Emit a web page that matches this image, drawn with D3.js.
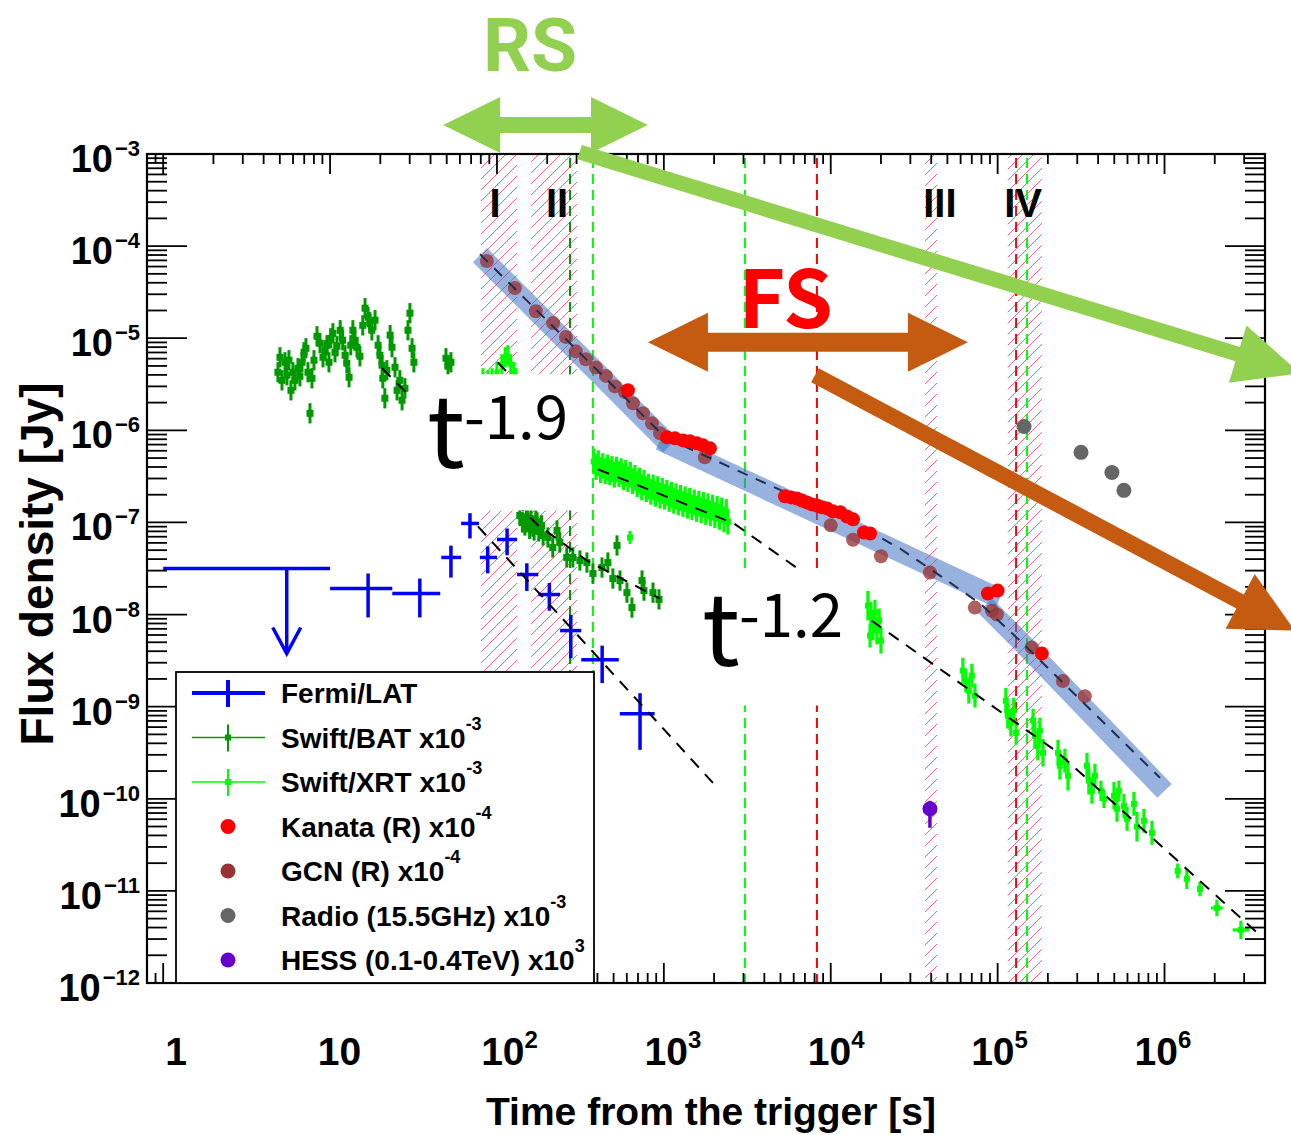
<!DOCTYPE html>
<html><head><meta charset="utf-8">
<script src="https://cdn.jsdelivr.net/npm/d3@7/dist/d3.min.js"></script>
<style>body{margin:0;background:#fff}svg{display:block}</style>
</head><body>
<svg id="chart" width="1291" height="1135"></svg>
<script>
// ---------------- DATA ----------------
// Fermi/LAT
const fermiT   = [16.9, 34.5, 53, 68.9, 88, 115, 151, 206, 277, 427, 720];
const fermiTlo = [10, 23.6, 46.4, 61, 79, 100, 132, 177, 239, 320, 545];
const fermiThi = [23.6, 45.7, 61, 78, 100, 132, 177, 239, 320, 537, 880];
const fermiF   = [1.92e-8, 1.69e-8, 4.17e-8, 9.75e-8, 4.17e-8, 6.53e-8, 2.72e-8, 1.65e-8, 6.7e-9, 3.24e-9, 8.4e-10];
const fermiFlo = [9.3e-9, 9.3e-9, 2.52e-8, 6.7e-8, 2.8e-8, 4.4e-8, 1.8e-8, 1.1e-8, 3.35e-9, 1.8e-9, 3.4e-10];
const fermiFhi = [2.79e-8, 2.46e-8, 5.6e-8, 1.26e-7, 5.5e-8, 8.6e-8, 3.6e-8, 2.2e-8, 9.9e-9, 4.6e-9, 1.4e-9];
const fermiUlT = [1, 5.5, 10];
const fermiUlF = 3.16e-8;

// Swift/BAT (x1e-3)
const batT = [4.87,5.01,5.15,5.37,5.52,5.67,5.83,5.99,6.16,6.42,6.60,6.79,6.98,7.17,7.37,7.58,7.79,8.01,8.35,8.70,9.07,9.33,9.58,9.85,10.1,10.4,10.7,11.0,11.5,11.9,12.3,12.6,13.0,13.3,13.7,14.1,14.5,15.1,15.7,16.2,16.9,17.3,17.8,18.6,19.4,19.9,20.5,20.7,21.3,21.9,22.9,23.5,24.5,25.2,26.2,27.0,28.1,29.3,30.1,31.0,31.8,49.5,50.9,53.0,
  137,142,147,150,153,157,160,164,167,171,174,178,181,185,189,202,216,229,238,262,285,314,346,376,426,462,495,524,546,601,644,740,760,861,935];
const batF = [4.27e-6,6.21e-6,3.49e-6,5.48e-6,3.96e-6,5.77e-6,2.72e-6,4.27e-6,3.49e-6,4.72e-6,3.86e-6,5.48e-6,7.05e-6,7.78e-6,4.27e-6,1.53e-6,3.67e-6,5.77e-6,1.05e-5,8.83e-6,6.21e-6,7.41e-6,8.39e-6,5.48e-6,1.0e-5,1.13e-5,7.05e-6,8.18e-6,1.22e-5,9.51e-6,6.53e-6,5.35e-6,3.77e-6,8.39e-6,1.22e-5,9.51e-6,7.98e-6,6.37e-6,1.38e-5,2.12e-5,1.69e-5,1.49e-5,1.22e-5,1.57e-5,8.39e-6,6.53e-6,5.09e-6,3.67e-6,2.23e-6,4.49e-6,1.08e-5,7.98e-6,4.84e-6,2.72e-6,3.49e-6,2.12e-6,2.86e-6,1.22e-5,1.87e-5,7.78e-6,5.48e-6,6.06e-6,4.97e-6,5.48e-6,
  1.19e-7,1.0e-7,9.27e-8,1.15e-7,1.05e-7,8.5e-8,1.10e-7,9.0e-8,8.18e-8,1.05e-7,1.0e-7,8.0e-8,8.61e-8,9.3e-8,7.22e-8,6.87e-8,5.35e-8,8.18e-8,6.06e-8,4.17e-8,4.17e-8,3.86e-8,3.67e-8,2.79e-8,3.24e-8,3.67e-8,2.46e-8,5.62e-8,2.34e-8,1.73e-8,1.19e-8,2.34e-8,1.82e-8,1.73e-8,1.46e-8];
const batErrDex = 0.11;

// Swift/XRT (x1e-3)
const xrtEarlyT = [82.4,88.3,93.3,100,107,112,116,121,126,130];
const xrtEarlyF = [3.67e-6,3.49e-6,3.67e-6,4.27e-6,5.21e-6,6.21e-6,6.53e-6,5.21e-6,4.27e-6,3.67e-6];
const xrtPlatT = [380,392,405,418,431,445,459,474,489,505,521,538,555,573,591,610,630,650,671,692,714,737,761,785,810,836,863,891,919,949,979,1010,1043,1076,1111,1146,1183,1221,1260,1300,1342,1385,1429,1475,1522,1571,1621,1673,1727,1782,1839,1898,1959,2022,2087,2153,2222,2294,2367,2420];
const xrtPlatF = [4.6e-7,4.0e-7,4.4e-7,3.7e-7,4.1e-7,3.6e-7,3.95e-7,3.5e-7,3.8e-7,3.3e-7,3.75e-7,3.35e-7,3.6e-7,3.1e-7,3.45e-7,2.95e-7,3.3e-7,2.8e-7,3.05e-7,2.6e-7,2.85e-7,2.4e-7,2.7e-7,2.3e-7,2.45e-7,2.15e-7,2.4e-7,2.05e-7,2.3e-7,1.95e-7,2.2e-7,1.9e-7,2.1e-7,1.8e-7,2.0e-7,1.72e-7,1.92e-7,1.65e-7,1.85e-7,1.58e-7,1.78e-7,1.52e-7,1.72e-7,1.46e-7,1.65e-7,1.40e-7,1.6e-7,1.35e-7,1.55e-7,1.3e-7,1.5e-7,1.26e-7,1.45e-7,1.2e-7,1.4e-7,1.15e-7,1.35e-7,1.08e-7,1.3e-7,1.02e-7];
const xrtMidT = [627];
const xrtMidF = [6.87e-8];
const xrtLateT = [1.67e4,1.74e4,1.79e4,1.84e4,1.89e4,1.95e4,2.00e4,1.72e4, 6.19e4,6.45e4,6.72e4,7.01e4,7.31e4, 1.12e5,1.15e5,1.20e5,1.25e5,1.29e5, 1.63e5,1.67e5,1.74e5,1.79e5,1.87e5, 2.30e5,2.36e5,2.53e5,2.64e5, 3.43e5,3.52e5,3.67e5,3.83e5, 4.16e5,4.34e5, 4.98e5,5.19e5,5.33e5, 5.71e5,5.96e5, 6.56e5,6.84e5, 7.53e5, 8.41e5, 1.20e6,1.36e6,1.63e6,2.06e6,2.87e6];
const xrtLateF = [1.25e-8,9.75e-9,7.59e-9,1.05e-8,6.70e-9,8.61e-9,5.21e-9,5.91e-9, 2.46e-9,1.92e-9,1.49e-9,2.17e-9,1.32e-9, 1.16e-9,7.98e-10,6.70e-10,9.06e-10,5.21e-10, 7.05e-10,4.84e-10,3.77e-10,5.48e-10,3.16e-10, 3.16e-10,2.28e-10,2.59e-10,1.78e-10, 2.28e-10,1.57e-10,1.22e-10,1.78e-10, 1.22e-10,1.0e-10, 1.08e-10,7.78e-11,1.22e-10, 8.39e-11,6.06e-11, 8.82e-11,4.97e-11, 5.77e-11, 4.27e-11, 1.65e-11,1.35e-11,1.05e-11,6.53e-12,3.77e-12];
const xrtLateErr = [.16,.15,.16,.14,.15,.13,.14,.13, .14,.13,.14,.13,.13, .14,.14,.15,.14,.13, .13,.14,.16,.14,.15, .14,.15,.13,.16, .14,.15,.14,.13, .11,.10, .15,.14,.11, .13,.13, .13,.16, .13, .13, .08,.11,.08,.09,.10];
const xrtLateTErr = [.01,.01,.01,.01,.01,.01,.01,.01,.01,.01,.01,.01,.01,.01,.01,.01,.01,.01,.01,.01,.01,.01,.01,.01,.01,.01,.01,.01,.01,.01,.01,.01,.01,.01,.01,.01,.01,.01,.01,.01,.01,.01, .015,.015,.015,.035,.05];

// Optical (x1e-4)
const kanataT = [609,1044,1165,1301,1432,1578,1715,1889,5316,5778,6270,6718,7198,7713,8264,8855,9487,1.03e4,1.14e4,1.25e4,1.36e4,1.58e4,1.72e4,8.75e4,1.0e5,1.84e5];
const kanataF = [2.72e-6,8.39e-7,8.18e-7,7.78e-7,7.59e-7,7.22e-7,6.87e-7,6.37e-7,1.92e-7,1.87e-7,1.82e-7,1.73e-7,1.65e-7,1.57e-7,1.53e-7,1.46e-7,1.42e-7,1.32e-7,1.29e-7,1.16e-7,1.08e-7,7.78e-8,7.59e-8,1.69e-8,1.82e-8,3.77e-9];
const gcnT = [87,128,171,217,259,297,341,392,450,509,585,653,750,849,948,1760,1.0e4,1.36e4,2.0e4,3.93e4,7.3e4,9.25e4,9.9e4,1.6e5,2.46e5,3.33e5];
const gcnF = [6.9e-5,3.5e-5,1.96e-5,1.46e-5,1.03e-5,7.2e-6,5.9e-6,4.8e-6,3.9e-6,3.0e-6,2.6e-6,1.97e-6,1.53e-6,1.19e-6,9.3e-7,5.1e-7,9.3e-8,6.5e-8,4.3e-8,2.86e-8,1.19e-8,1.1e-8,1.0e-8,4.4e-9,1.9e-9,1.3e-9];
// Radio (x1e-3), HESS (x1e3)
const radioT = [1.44e5, 3.16e5, 4.84e5, 5.71e5];
const radioF = [1.10e-6, 5.77e-7, 3.49e-7, 2.23e-7];
const hessT = [3.93e4], hessF = [7.78e-11], hessFlo = [4.84e-11], hessFhi = [9.5e-11];

// Fits (dashed lines)
const fitBatT = [20.5, 174, 346, 947];
const fitBatF = [4.72e-6, 9.5e-8, 3.86e-8, 1.49e-8];
const fitLatT = [76.9, 1968];
const fitLatF = [9.06e-8, 1.49e-10];
const fitXrtEarlyT = [101, 126];
const fitXrtEarlyF = [5.48e-6, 3.6e-6];
const fitXrtT = [403, 2630, 2.27e5, 3.83e6];
const fitXrtF = [3.77e-7, 9.75e-8, 3.24e-10, 3.16e-12];
const fitOptT = [79.1, 975, 1250, 1.50e4, 2.60e4, 4.51e4, 7.83e4, 1.36e5, 9.4e5];
const fitOptF = [8.18e-5, 9.06e-7, 7.05e-7, 9.06e-8, 5.21e-8, 2.65e-8, 1.32e-8, 5.21e-9, 1.69e-10];
const bandSegT = [[79.1, 1088], [948, 1.03e5], [8.4e4, 1.36e5, 1.0e6]];
const bandSegF = [[7.98e-5, 6.87e-7], [7.78e-7, 1.49e-8], [1.25e-8, 5.21e-9, 1.22e-10]];

// Epochs / markers
const hatchT0 = [80.2, 160, 3.67e4, 1.15e5];
const hatchT1 = [132, 302, 4.33e4, 1.84e5];
const epochNames = ["I", "II", "III", "IV"];
const epochLabelT = [97.3, 229, 4.51e4, 1.42e5];
const epochLabelF = 2.07e-4;
const vlineT = [274, 376, 3061, 8264, 1.29e5, 1.50e5];
const vlineKind = ["bat", "xrt", "xrt", "opt", "opt", "xrt"];

// Masks (white boxes behind power-law labels)
const maskT = [[30.1, 360], [1432, 1.60e4]];
const maskF = [[1.35e-7, 4.06e-6], [1.03e-9, 3.16e-8]];

// Annotations
const slopeText = ["-1.9", "-1.2"];
const slopeT = [39.7, 1762];
const slopeF = [3.86e-7, 2.79e-9];
const rsArrowT = [47.6, 803], rsArrowF = 2.07e-3;
const fsArrowT = [803, 6.64e4], fsArrowF = 9.05e-6;
const rsLabelT = 158, rsLabelF = 8.0e-3;
const fsLabelT = 5370, fsLabelF = 1.28e-5;
const rsDiagT = [313, 6.47e6], rsDiagF = [1.05e-3, 4.17e-6];
const fsDiagT = [8040, 6.04e6], fsDiagF = [3.96e-6, 6.70e-9];

// Axes / legend text
const xTickExps = [0, 1, 2, 3, 4, 5, 6];
const yTickExps = [-3, -4, -5, -6, -7, -8, -9, -10, -11, -12];
const legendLabels = ["Fermi/LAT", "Swift/BAT x10", "Swift/XRT x10", "Kanata (R) x10", "GCN (R) x10", "Radio (15.5GHz) x10", "HESS (0.1-0.4TeV) x10"];
const legendExps = ["", "-3", "-3", "-4", "-4", "-3", "3"];

// ---------------- STYLE ----------------
const C = {fermi:"#0000ff", bat:"#009900", xrt:"#00ff00", kanata:"#ff0000", gcn:"#993333",
  radio:"#666666", hess:"#6600cc", band:"#4472c4", navy:"#1f3050", hatch:"#ff5070",
  rs:"#92d050", fsArrow:"#c55a11", fsText:"#ff0000", opt:"#ff0000"};
const AX = "Liberation Sans, Arial, Helvetica, sans-serif";
const AN = "Noto Sans CJK JP, Noto Sans, sans-serif";

// ---------------- SCALES ----------------
const X0 = 147, X1 = 1265, Y0 = 154, Y1 = 983;
const x = d3.scaleLog().domain([0.8, 4e6]).range([X0, X1]);
const y = d3.scaleLog().domain([1e-12, 1e-3]).range([Y1, Y0]);
const xLab = d3.scaleLog().domain([1, 1e6]).range([176, 1156]); // label strip of the figure

const svg = d3.select("#chart");
svg.append("rect").attr("width", 1291).attr("height", 1135).attr("fill", "#fff");

const defs = svg.append("defs");
const pat = defs.append("pattern").attr("id", "hatch").attr("patternUnits", "userSpaceOnUse")
  .attr("width", 11).attr("height", 11);
pat.append("path").attr("d", "M-1,1 l2,-2 M0,11 l11,-11 M10,12 l2,-2")
  .attr("stroke", C.hatch).attr("stroke-width", 0.9);

// hatched epochs
svg.append("g").selectAll("rect").data(hatchT0).join("rect")
  .attr("x", (d, i) => x(d)).attr("width", (d, i) => x(hatchT1[i]) - x(d))
  .attr("y", Y0).attr("height", Y1 - Y0).attr("fill", "url(#hatch)");

// vertical dashed lines
svg.append("g").selectAll("line").data(vlineT).join("line")
  .attr("x1", d => x(d)).attr("x2", d => x(d)).attr("y1", Y0 + 4).attr("y2", Y1)
  .attr("stroke", (d, i) => C[vlineKind[i]]).attr("stroke-width", 2)
  .attr("stroke-dasharray", "10,6");

// generic error-bar series
function errSeries(ts, fs, opt) {
  const g = svg.append("g");
  ts.forEach((t, i) => {
    const f = fs[i];
    const ed = opt.errArr ? opt.errArr[i] : opt.err;
    const td = opt.terrArr ? opt.terrArr[i] : opt.terr;
    const fl = f / Math.pow(10, ed), fh = f * Math.pow(10, ed);
    const tl = t / Math.pow(10, td), th = t * Math.pow(10, td);
    g.append("line").attr("x1", x(tl)).attr("x2", x(th)).attr("y1", y(f)).attr("y2", y(f))
      .attr("stroke", opt.color).attr("stroke-width", opt.sw);
    g.append("line").attr("x1", x(t)).attr("x2", x(t)).attr("y1", y(fl)).attr("y2", y(fh))
      .attr("stroke", opt.color).attr("stroke-width", opt.sw);
    if (opt.ms) g.append("rect").attr("x", x(t) - opt.ms / 2).attr("y", y(f) - opt.ms / 2)
      .attr("width", opt.ms).attr("height", opt.ms).attr("fill", opt.color);
  });
}
errSeries(batT, batF, {color: C.bat, err: batErrDex, terr: 0.009, sw: 3, ms: 7});
errSeries(xrtEarlyT, xrtEarlyF, {color: C.xrt, err: 0.11, terr: 0.012, sw: 3, ms: 5});
errSeries(xrtPlatT, xrtPlatF, {color: C.xrt, err: 0.14, terr: 0.016, sw: 3.2, ms: 6});
errSeries(xrtMidT, xrtMidF, {color: C.xrt, err: 0.07, terr: 0.01, sw: 3, ms: 6});
errSeries(xrtLateT, xrtLateF, {color: C.xrt, errArr: xrtLateErr, terrArr: xrtLateTErr, sw: 3.2, ms: 6});

// Fermi/LAT
const gF = svg.append("g").attr("stroke", C.fermi).attr("stroke-width", 3.5);
fermiT.forEach((t, i) => {
  gF.append("line").attr("x1", x(fermiTlo[i])).attr("x2", x(fermiThi[i])).attr("y1", y(fermiF[i])).attr("y2", y(fermiF[i]));
  gF.append("line").attr("x1", x(t)).attr("x2", x(t)).attr("y1", y(fermiFlo[i])).attr("y2", y(fermiFhi[i]));
});
gF.append("line").attr("x1", x(fermiUlT[0])).attr("x2", x(fermiUlT[2])).attr("y1", y(fermiUlF)).attr("y2", y(fermiUlF));
const ulx = x(fermiUlT[1]), uly = y(fermiUlF);
gF.append("line").attr("x1", ulx).attr("x2", ulx).attr("y1", uly).attr("y2", uly + 85);
gF.append("path").attr("fill", "none").attr("d", `M${ulx - 14},${uly + 59} L${ulx},${uly + 85} L${ulx + 14},${uly + 59}`);

// black dashed fits
const lineGen = d3.line().x(d => x(d[0])).y(d => y(d[1]));
[[fitBatT, fitBatF], [fitLatT, fitLatF], [fitXrtEarlyT, fitXrtEarlyF], [fitXrtT, fitXrtF]].forEach(([ts, fs]) => {
  svg.append("path").attr("d", lineGen(ts.map((t, i) => [t, fs[i]])))
    .attr("fill", "none").attr("stroke", "#000").attr("stroke-width", 2).attr("stroke-dasharray", "12,9");
});

// white masks
svg.append("g").selectAll("rect").data(maskT).join("rect")
  .attr("x", d => x(d[0])).attr("width", d => x(d[1]) - x(d[0]))
  .attr("y", (d, i) => y(maskF[i][1])).attr("height", (d, i) => y(maskF[i][0]) - y(maskF[i][1]))
  .attr("fill", "#fff");

// slope labels
slopeText.forEach((s, i) => {
  const px = x(slopeT[i]), py = y(slopeF[i]);
  svg.append("text").attr("x", px - 3).attr("y", py).attr("font-family", AN).attr("font-weight", 400)
    .attr("font-size", 100).attr("fill", "#000").text("t");
  svg.append("text").attr("x", px + 34).attr("y", py - 29).attr("font-family", AN).attr("font-weight", 400)
    .attr("font-size", 60).attr("fill", "#000").text(s);
});

// optical band
bandSegT.forEach((ts, k) => {
  svg.append("path").attr("d", lineGen(ts.map((t, i) => [t, bandSegF[k][i]])))
    .attr("fill", "none").attr("stroke", C.band).attr("stroke-opacity", 0.55)
    .attr("stroke-width", 20).attr("stroke-linejoin", "round");
});
// GCN
svg.append("g").selectAll("circle").data(gcnT).join("circle")
  .attr("cx", d => x(d)).attr("cy", (d, i) => y(gcnF[i])).attr("r", 7).attr("fill", C.gcn)
  .attr("fill-opacity", 0.78);
svg.append("path").attr("d", lineGen(fitOptT.map((t, i) => [t, fitOptF[i]])))
  .attr("fill", "none").attr("stroke", C.navy).attr("stroke-width", 2).attr("stroke-dasharray", "11,9");

// Kanata
svg.append("g").selectAll("circle").data(kanataT).join("circle")
  .attr("cx", d => x(d)).attr("cy", (d, i) => y(kanataF[i])).attr("r", 7).attr("fill", C.kanata);
// Radio
svg.append("g").selectAll("circle").data(radioT).join("circle")
  .attr("cx", d => x(d)).attr("cy", (d, i) => y(radioF[i])).attr("r", 7.5).attr("fill", C.radio);
// HESS
hessT.forEach((t, i) => {
  svg.append("line").attr("x1", x(t)).attr("x2", x(t)).attr("y1", y(hessFlo[i])).attr("y2", y(hessFhi[i]))
    .attr("stroke", C.hess).attr("stroke-width", 3.5);
  svg.append("circle").attr("cx", x(t)).attr("cy", y(hessF[i])).attr("r", 7.5).attr("fill", C.hess);
});

// epoch labels
svg.append("g").selectAll("text").data(epochNames).join("text")
  .attr("x", (d, i) => x(epochLabelT[i])).attr("y", y(epochLabelF)).attr("text-anchor", "middle")
  .attr("font-family", AX).attr("font-weight", "bold").attr("font-size", 40).attr("fill", "#000")
  .text(d => d);

// ---------------- AXES ----------------
const gAx = svg.append("g").attr("stroke", "#000").attr("stroke-width", 1.8);
const majY = yTickExps.map(k => Math.pow(10, k));
const minY = [];
yTickExps.forEach(k => { if (k < -3) for (let m = 2; m <= 9; m++) minY.push(m * Math.pow(10, k)); });
const majX = xTickExps.map(k => Math.pow(10, k));
const minX = [0.9];
xTickExps.forEach(k => { for (let m = 2; m <= 9; m++) { const v = m * Math.pow(10, k); if (v < 4e6) minX.push(v); } });
function yt(vals, len) {
  vals.forEach(v => {
    gAx.append("line").attr("x1", X0).attr("x2", X0 + len).attr("y1", y(v)).attr("y2", y(v));
    gAx.append("line").attr("x1", X1).attr("x2", X1 - len).attr("y1", y(v)).attr("y2", y(v));
  });
}
function xt(vals, len) {
  vals.forEach(v => {
    gAx.append("line").attr("y1", Y0).attr("y2", Y0 + len).attr("x1", x(v)).attr("x2", x(v));
    gAx.append("line").attr("y1", Y1).attr("y2", Y1 - len).attr("x1", x(v)).attr("x2", x(v));
  });
}
yt(majY, 40); yt(minY, 20); xt(majX, 20); xt(minX, 10);
svg.append("rect").attr("x", X0).attr("y", Y0).attr("width", X1 - X0).attr("height", Y1 - Y0)
  .attr("fill", "none").attr("stroke", "#000").attr("stroke-width", 2.2);

// y tick labels
yTickExps.forEach(k => {
  const t = svg.append("text").attr("x", 140).attr("y", y(Math.pow(10, k)) + 18).attr("text-anchor", "end")
    .attr("font-family", AX).attr("font-weight", "bold").attr("font-size", 38).attr("fill", "#000");
  t.append("tspan").text("10");
  t.append("tspan").attr("dy", -16).attr("dx", 2).attr("font-size", 22).text("\u2212" + (-k));
});
// x tick labels
xTickExps.forEach(k => {
  const cx = xLab(Math.pow(10, k));
  const t = svg.append("text").attr("y", 1065).attr("font-family", AX).attr("font-weight", "bold")
    .attr("font-size", 39).attr("fill", "#000");
  if (k === 0) { t.attr("x", cx).attr("text-anchor", "middle").text("1"); return; }
  t.attr("x", cx - 21.5);
  t.append("tspan").text("10");
  if (k > 1) t.append("tspan").attr("dy", -17).attr("font-size", 24).text(k);
});
svg.append("text").attr("x", 711).attr("y", 1125).attr("text-anchor", "middle")
  .attr("font-family", AX).attr("font-weight", "bold").attr("font-size", 39).attr("fill", "#000")
  .text("Time from the trigger [s]");
svg.append("text").attr("transform", "translate(53,564) rotate(-90)").attr("text-anchor", "middle")
  .attr("font-family", AX).attr("font-weight", "bold").attr("font-size", 46).attr("fill", "#000")
  .text("Flux density [Jy]");

// ---------------- LEGEND ----------------
const lg = svg.append("g");
lg.append("rect").attr("x", 176).attr("y", 672).attr("width", 418).attr("height", 311)
  .attr("fill", "#fff").attr("stroke", "#000").attr("stroke-width", 1.8);
const rowY = i => 693 + i * 44.5;
lg.append("line").attr("x1", 192).attr("x2", 265).attr("y1", rowY(0)).attr("y2", rowY(0)).attr("stroke", C.fermi).attr("stroke-width", 4);
lg.append("line").attr("x1", 228).attr("x2", 228).attr("y1", rowY(0) - 13).attr("y2", rowY(0) + 14).attr("stroke", C.fermi).attr("stroke-width", 4);
[[1, C.bat], [2, C.xrt]].forEach(([i, c]) => {
  lg.append("line").attr("x1", 192).attr("x2", 265).attr("y1", rowY(i)).attr("y2", rowY(i)).attr("stroke", c).attr("stroke-width", 1.6);
  lg.append("line").attr("x1", 228).attr("x2", 228).attr("y1", rowY(i) - 13).attr("y2", rowY(i) + 14).attr("stroke", c).attr("stroke-width", 2);
  lg.append("rect").attr("x", 225).attr("y", rowY(i) - 3).attr("width", 6).attr("height", 6).attr("fill", c);
});
[[3, C.kanata], [4, C.gcn], [5, C.radio], [6, C.hess]].forEach(([i, c]) => {
  lg.append("circle").attr("cx", 228).attr("cy", rowY(i)).attr("r", 7.5).attr("fill", c);
});
legendLabels.forEach((s, i) => {
  const t = lg.append("text").attr("x", 281).attr("y", rowY(i) + 10).attr("font-family", AX)
    .attr("font-weight", "bold").attr("font-size", 28).attr("fill", "#000");
  t.append("tspan").text(s);
  if (legendExps[i]) t.append("tspan").attr("dy", -18).attr("font-size", 18).text(legendExps[i]);
});

// ---------------- ANNOTATIONS ----------------
function dblArrow(t0, t1, f, s, h, w, color) {
  const L = x(t0), R = x(t1), c = y(f);
  const pts = [[L, c], [L + h, c - w], [L + h, c - s], [R - h, c - s], [R - h, c - w], [R, c],
    [R - h, c + w], [R - h, c + s], [L + h, c + s], [L + h, c + w]];
  svg.append("polygon").attr("points", pts.map(p => p.join(",")).join(" ")).attr("fill", color);
}
function arrow(ts, fs, s, h, w, color) {
  const Sx = x(ts[0]), Sy = y(fs[0]), Tx = x(ts[1]), Ty = y(fs[1]);
  const len = Math.hypot(Tx - Sx, Ty - Sy), ux = (Tx - Sx) / len, uy = (Ty - Sy) / len;
  const nx = -uy, ny = ux, Bx = Tx - ux * h, By = Ty - uy * h;
  const pts = [[Sx + nx * s, Sy + ny * s], [Bx + nx * s, By + ny * s], [Bx + nx * w, By + ny * w], [Tx, Ty],
    [Bx - nx * w, By - ny * w], [Bx - nx * s, By - ny * s], [Sx - nx * s, Sy - ny * s]];
  svg.append("polygon").attr("points", pts.map(p => p.join(",")).join(" ")).attr("fill", color);
}
arrow(rsDiagT, rsDiagF, 7.5, 65, 30, C.rs);
arrow(fsDiagT, fsDiagF, 8, 62, 31, C.fsArrow);
dblArrow(rsArrowT[0], rsArrowT[1], rsArrowF, 8, 57, 28, C.rs);
dblArrow(fsArrowT[0], fsArrowT[1], fsArrowF, 9.5, 60, 29.5, C.fsArrow);
svg.append("text").attr("x", x(rsLabelT)).attr("y", y(rsLabelF)).attr("text-anchor", "middle")
  .attr("font-family", "Roboto, Liberation Sans, sans-serif").attr("font-weight", "bold")
  .attr("font-size", 75).attr("fill", C.rs).text("RS");
svg.append("text").attr("x", x(fsLabelT)).attr("y", y(fsLabelF)).attr("text-anchor", "middle")
  .attr("font-family", AN).attr("font-weight", "bold").attr("font-size", 80).attr("fill", C.fsText).text("FS");
</script>
</body></html>
